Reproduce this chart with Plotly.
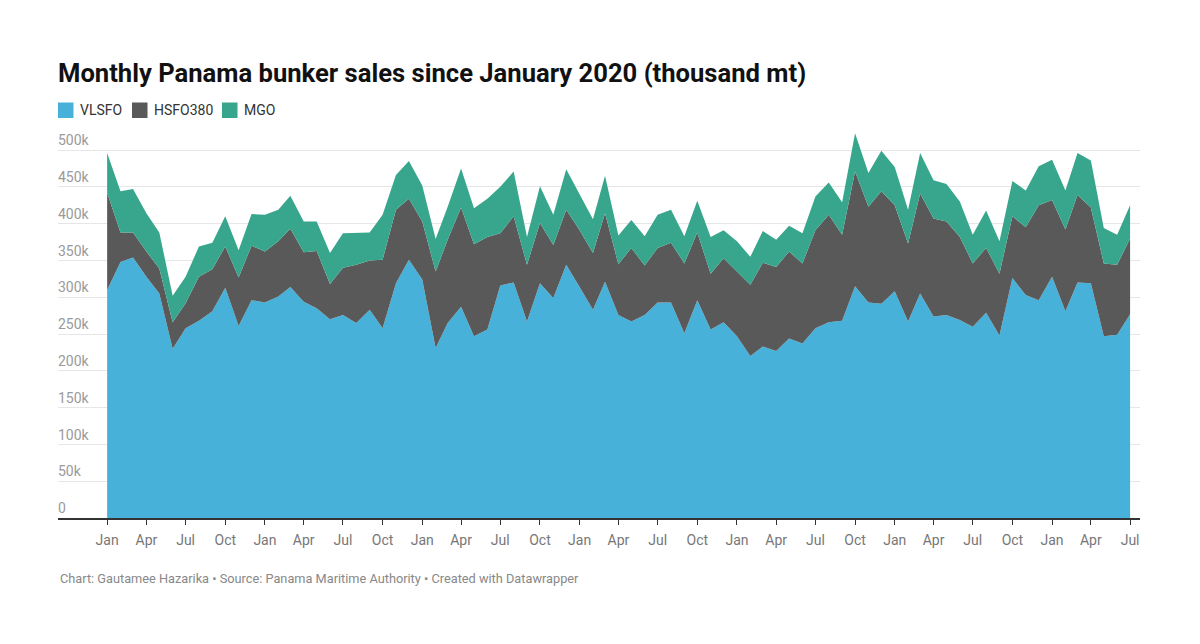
import pandas as pd
import plotly.graph_objects as go

# monthly sales, thousand mt, Jan 2020 onwards
months = pd.date_range("2020-01-01", periods=79, freq="MS")

vlsfo = [310, 348, 354, 328, 305, 230, 258, 268, 281, 313, 261, 296,
         293, 301, 314, 294, 285, 270, 276, 265, 283, 258, 319, 351,
         324, 231, 265, 287, 247, 256, 316, 320, 267, 319, 299, 344,
         314, 283, 321, 276, 267, 276, 293, 293, 251, 296, 256, 266,
         247, 220, 233, 227, 244, 237, 258, 266, 268, 315, 293, 291,
         308, 267, 305, 274, 276, 269, 260, 279, 248, 326, 303, 296,
         328, 281, 320, 319, 247, 249, 277]

hsfo380 = [132, 40, 34, 34, 34, 36, 34, 60, 57, 56, 66, 74,
           69, 75, 79, 67, 78, 48, 64, 79, 67, 93, 100, 83,
           79, 104, 113, 135, 125, 126, 71, 90, 77, 82, 72, 75,
           77, 77, 93, 69, 100, 67, 74, 81, 95, 92, 76, 87,
           88, 97, 114, 114, 118, 109, 133, 146, 117, 156, 130, 153,
           117, 106, 136, 133, 127, 113, 86, 88, 84, 84, 92, 129,
           104, 111, 119, 103, 99, 95, 103]

mgo = [54, 56, 59, 52, 49, 36, 36, 41, 36, 41, 37, 43,
       50, 43, 45, 42, 40, 42, 47, 44, 38, 61, 47, 51,
       49, 44, 45, 53, 49, 52, 63, 61, 38, 50, 41, 55,
       50, 46, 51, 39, 38, 40, 45, 45, 37, 43, 50, 38,
       41, 38, 43, 37, 35, 41, 46, 44, 44, 52, 46, 55,
       52, 46, 55, 52, 51, 48, 39, 51, 44, 48, 50, 53,
       55, 53, 57, 64, 48, 41, 45]

series = ["VLSFO", "HSFO380", "MGO"]
colors = ["#48b1d9", "#595959", "#38a68c"]

y_ticks = [0, 50, 100, 150, 200, 250, 300, 350, 400, 450, 500]
y_labels = ["0", "50k", "100k", "150k", "200k", "250k", "300k",
            "350k", "400k", "450k", "500k"]

# figure size in px (page body has an 8px margin)
W, H = 1184, 628
L, R, T, B = 50, 52, 120, 118
plot_w = W - L - R
plot_h = H - T - B


def px_x(px):
    return (px - L) / plot_w


def px_y(py):
    return (H - B - py) / plot_h


fig = go.Figure()

for name, vals, col in zip(series, [vlsfo, hsfo380, mgo], colors):
    fig.add_trace(go.Scatter(
        x=months, y=vals, name=name,
        mode="lines", stackgroup="one",
        line=dict(width=0, color=col),
        fillcolor=col,
        showlegend=False,
        hovertemplate=name + ": %{y}k<extra></extra>"
    ))

# legend drawn by hand: swatch + label
legend_sq = [50, 124, 214]
shapes = []
annotations = []
for name, col, sx in zip(series, colors, legend_sq):
    shapes.append(dict(
        type="rect", xref="paper", yref="paper",
        x0=px_x(sx), x1=px_x(sx + 15.5), y0=px_y(94.5), y1=px_y(110),
        fillcolor=col, line=dict(width=0)
    ))
    annotations.append(dict(
        text=name, xref="paper", yref="paper",
        x=px_x(sx + 20), y=px_y(102.5), xanchor="left", yanchor="middle",
        showarrow=False, font=dict(size=14, color="#333")
    ))

annotations.append(dict(
    text="Chart: Gautamee Hazarika • Source: Panama Maritime Authority • Created with Datawrapper",
    xref="paper", yref="paper", x=0, y=px_y(570),
    xanchor="left", yanchor="middle", showarrow=False,
    font=dict(size=12.75, color="#888")
))

x_start = months[0] - pd.Timedelta(days=114)
x_end = months[-1] + pd.Timedelta(days=23)

fig.update_layout(
    width=W, height=H,
    margin=dict(l=L, r=R, t=T, b=B),
    plot_bgcolor="white", paper_bgcolor="white",
    font=dict(family="Roboto", size=14, color="#333"),
    showlegend=False,
    title=dict(
        text="<b>Monthly Panama bunker sales since January 2020 (thousand mt)</b>",
        x=L / W, xanchor="left", y=1 - 65 / H, yanchor="middle",
        font=dict(family="Roboto", size=25.6, color="#111")
    ),
    xaxis=dict(
        range=[x_start, x_end],
        dtick="M3", tick0="2020-01-01", tickformat="%b",
        showgrid=False, zeroline=False,
        showline=True, linecolor="#333", linewidth=1.5,
        ticks="outside", ticklen=5, tickcolor="#333", tickwidth=1,
        ticklabelstandoff=3,
        tickfont=dict(size=14, color="#777")
    ),
    yaxis=dict(
        range=[0, 530],
        tickvals=y_ticks, ticktext=y_labels,
        ticklabelposition="inside top", ticklabelstandoff=-3,
        showgrid=True, gridcolor="#e6e6e6", gridwidth=1,
        zeroline=False, showline=False, ticks="",
        tickfont=dict(size=14, color="#9a9a9a")
    ),
    shapes=shapes,
    annotations=annotations
)

fig.write_html("out.html")
